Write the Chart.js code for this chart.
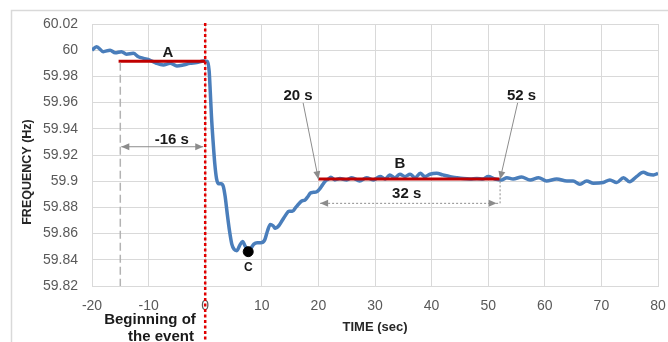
<!DOCTYPE html>
<html>
<head>
<meta charset="utf-8">
<script src="https://cdn.jsdelivr.net/npm/chart.js@4/dist/chart.umd.min.js"></script>
<style>
  html, body { margin: 0; padding: 0; background: #ffffff; }
  #wrap { width: 668px; height: 342px; position: relative; }
</style>
</head>
<body>
<div id="wrap"><canvas id="c"></canvas></div>
<script>
// ---- data ----
const timeSec = [-20, -19.2, -18, -16.8, -15.9, -14.8, -13.9, -12.7, -11.8, -10.9, -9.8, -8.6, -7.4, -6.2, -5.0, -3.9, -2.7, -1.5, -0.3,
  0.4, 0.7, 0.9, 1.1, 1.4, 1.7, 2.0, 2.4, 2.8, 3.2, 3.5, 3.9, 4.3, 4.7, 5.1, 5.6, 6.1, 6.6, 7.1, 7.6, 8.1, 8.6, 9.2, 9.8,
  10.5, 11.0, 11.5, 12.0, 12.4, 13.0, 13.6, 14.2, 14.8, 15.4, 16.0, 16.6, 17.1, 17.6, 18.1, 18.6, 19.1, 19.7, 20.2, 20.7,
  21.2, 21.7, 22.2, 22.9, 23.8, 25.0, 25.9, 27.3, 28.5, 29.7, 30.9, 31.8, 32.6, 33.5, 34.4, 35.3, 36.2, 37.1, 38.0, 38.8,
  39.7, 40.9, 42.0, 43.3, 44.4, 45.6, 46.8, 48.0, 49.1, 50.0, 51.2, 52.4, 53.3, 54.4, 55.9, 57.4, 58.9, 60.3, 62.1, 63.9,
  65.0, 66.2, 67.4, 68.6, 70.3, 71.5, 72.7, 73.9, 75.0, 76.2, 77.4, 78.3, 79.2, 80.0];
const freqHz = [60.000, 60.0027, 59.9989, 60.000, 59.998, 59.9989, 59.9969, 59.9976, 59.995, 59.9938, 59.9925, 59.990, 59.9887, 59.990, 59.988, 59.9887, 59.990, 59.9905, 59.9918,
  59.9915, 59.984, 59.968, 59.950, 59.930, 59.913, 59.902, 59.898, 59.898, 59.896, 59.889, 59.875, 59.862, 59.852, 59.848, 59.847, 59.851, 59.854, 59.850, 59.847, 59.849, 59.852, 59.853, 59.853,
  59.855, 59.862, 59.867, 59.866, 59.864, 59.866, 59.870, 59.874, 59.877, 59.877, 59.880, 59.883, 59.885, 59.8855, 59.888, 59.891, 59.8915, 59.892, 59.894, 59.897,
  59.900, 59.9015, 59.903, 59.901, 59.902, 59.901, 59.9027, 59.9002, 59.9027, 59.901, 59.9035, 59.9017, 59.9048, 59.9027, 59.9053, 59.9035, 59.9053, 59.9027, 59.906, 59.9035,
  59.9053, 59.906, 59.9048, 59.9035, 59.9027, 59.902, 59.9017, 59.902, 59.9017, 59.9035, 59.9017, 59.901, 59.9027, 59.9017, 59.9032, 59.901, 59.9027, 59.9002, 59.9017, 59.9002,
  59.9002, 59.8976, 59.9002, 59.8984, 59.899, 59.901, 59.899, 59.9027, 59.8996, 59.9035, 59.9068, 59.9053, 59.9048, 59.906];

// Level A (pre-event) and level B (settling) segments
const levelA_time = [-15.3, 0];
const levelA_freq = [59.9915, 59.9915];
const levelB_time = [20, 52];
const levelB_freq = [59.9017, 59.9017];
// Point C (nadir marker)
const pointC_time = [7.6];
const pointC_freq = [59.8462];

// Axis ticks
const xTicks = [-20, -10, 0, 10, 20, 30, 40, 50, 60, 70, 80];
const yTicks = [59.82, 59.84, 59.86, 59.88, 59.9, 59.92, 59.94, 59.96, 59.98, 60, 60.02];

const toXY = (xs, ys) => xs.map((x, i) => ({ x: x, y: ys[i] }));

function arrowHead(ctx, x1, y1, x2, y2, len, half) {
  const a = Math.atan2(y2 - y1, x2 - x1);
  ctx.beginPath();
  ctx.moveTo(x2, y2);
  ctx.lineTo(x2 - len * Math.cos(a) + half * Math.sin(a), y2 - len * Math.sin(a) - half * Math.cos(a));
  ctx.lineTo(x2 - len * Math.cos(a) - half * Math.sin(a), y2 - len * Math.sin(a) + half * Math.cos(a));
  ctx.closePath();
  ctx.fill();
}

const annot = {
  id: 'annot',
  beforeDraw(chart) {
    const ctx = chart.ctx;
    ctx.save();
    ctx.strokeStyle = '#d9d9d9';
    ctx.lineWidth = 1.5;
    ctx.strokeRect(11.5, 10.5, 700, 400);
    ctx.restore();
  },
  afterDatasetsDraw(chart) {
    const ctx = chart.ctx;
    const xs = chart.scales.x, ys = chart.scales.y;
    const X = v => xs.getPixelForValue(v), Y = v => ys.getPixelForValue(v);
    const area = chart.chartArea;
    ctx.save();

    // gray dashed vertical at -15 s
    ctx.strokeStyle = '#b3b3b3';
    ctx.lineWidth = 1.5;
    ctx.setLineDash([8, 4]);
    ctx.beginPath();
    ctx.moveTo(X(-15), Y(59.9905));
    ctx.lineTo(X(-15), area.bottom);
    ctx.stroke();
    ctx.setLineDash([]);

    // -16 s double arrow
    ctx.strokeStyle = '#8c8c8c';
    ctx.fillStyle = '#8c8c8c';
    ctx.lineWidth = 1;
    const ya = Y(59.9263);
    ctx.beginPath();
    ctx.moveTo(X(-15) + 1, ya);
    ctx.lineTo(X(-0.35), ya);
    ctx.stroke();
    arrowHead(ctx, X(-8), ya, X(-15) + 1, ya, 8, 3.5);
    arrowHead(ctx, X(-8), ya, X(-0.35), ya, 8, 3.5);

    // 20 s arrow
    ctx.beginPath();
    ctx.moveTo(X(17.3), Y(59.9598));
    ctx.lineTo(X(20), Y(59.9015));
    ctx.stroke();
    arrowHead(ctx, X(17.3), Y(59.9598), X(20), Y(59.9015), 8, 3.5);

    // 52 s arrow
    ctx.beginPath();
    ctx.moveTo(X(55.2), Y(59.9598));
    ctx.lineTo(X(52.1), Y(59.9015));
    ctx.stroke();
    arrowHead(ctx, X(55.2), Y(59.9598), X(52.1), Y(59.9015), 8, 3.5);

    // 32 s dotted double arrow with connector
    const yb = Y(59.8831);
    ctx.setLineDash([2, 2]);
    ctx.beginPath();
    ctx.moveTo(X(20.3), yb);
    ctx.lineTo(X(52.1), yb);
    ctx.lineTo(X(52.1), Y(59.9));
    ctx.stroke();
    ctx.setLineDash([]);
    arrowHead(ctx, X(30), yb, X(20.3), yb, 8, 3.5);
    arrowHead(ctx, X(40), yb, X(51.5), yb, 8, 3.5);

    // red dotted event line at t = 0
    ctx.strokeStyle = '#e00000';
    ctx.lineWidth = 2.5;
    ctx.setLineDash([3, 2.5]);
    ctx.beginPath();
    ctx.moveTo(X(0), area.top - 1);
    ctx.lineTo(X(0), chart.height);
    ctx.stroke();
    ctx.setLineDash([]);

    // texts
    ctx.fillStyle = '#1a1a1a';
    ctx.textAlign = 'center';
    ctx.textBaseline = 'middle';
    ctx.font = 'bold 15px "Liberation Sans", Arial, sans-serif';
    ctx.fillText('A', X(-6.6), Y(59.9979));
    ctx.fillText('-16 s', X(-5.9), Y(59.9315));
    ctx.fillText('20 s', X(16.4), Y(59.965));
    ctx.fillText('52 s', X(55.9), Y(59.965));
    ctx.fillText('B', X(34.4), Y(59.9131));
    ctx.fillText('32 s', X(35.6), Y(59.8902));
    ctx.font = 'bold 12px "Liberation Sans", Arial, sans-serif';
    ctx.fillText('C', X(7.6), Y(59.8343));

    ctx.font = 'bold 15px "Liberation Sans", Arial, sans-serif';
    ctx.fillStyle = '#1a1a1a';
    ctx.fillText('Beginning of', 150, 320);
    ctx.fillText('the event', 161, 337);

    // y axis title
    ctx.save();
    ctx.translate(28, 172);
    ctx.rotate(-Math.PI / 2);
    ctx.font = 'bold 12.5px "Liberation Sans", Arial, sans-serif';
    ctx.fillStyle = '#262626';
    ctx.fillText('FREQUENCY (Hz)', 0, 0);
    ctx.restore();

    ctx.restore();
  }
};

new Chart(document.getElementById('c'), {
  type: 'line',
  data: {
    datasets: [
      {
        label: 'Frequency',
        data: toXY(timeSec, freqHz),
        borderColor: '#4a7ebb',
        borderWidth: 3.5,
        pointRadius: 0,
        tension: 0.4,
        cubicInterpolationMode: 'monotone',
        order: 3
      },
      {
        label: 'A',
        data: toXY(levelA_time, levelA_freq),
        borderColor: '#c00000',
        borderWidth: 3,
        pointRadius: 0,
        order: 2
      },
      {
        label: 'B',
        data: toXY(levelB_time, levelB_freq),
        borderColor: '#c00000',
        borderWidth: 3,
        pointRadius: 0,
        order: 2
      },
      {
        label: 'C',
        data: toXY(pointC_time, pointC_freq),
        showLine: false,
        pointRadius: 5,
        pointBackgroundColor: '#000000',
        pointBorderColor: '#000000',
        order: 1
      }
    ]
  },
  options: {
    responsive: true,
    maintainAspectRatio: false,
    animation: false,
    layout: { padding: { left: 12, right: 10, top: 24, bottom: 0 } },
    plugins: { legend: { display: false }, tooltip: { enabled: false } },
    scales: {
      x: {
        type: 'linear',
        min: -20, max: 80,
        afterBuildTicks: s => { s.ticks = xTicks.map(v => ({ value: v })); },
        afterFit: s => { s.height = 56; s.paddingRight = 0; s.paddingLeft = 0; },
        ticks: { color: '#595959', font: { size: 14, family: '"Liberation Sans", Arial, sans-serif' }, padding: 12, maxRotation: 0 },
        grid: { color: '#d9d9d9', lineWidth: 1, drawTicks: false },
        border: { color: '#d9d9d9' },
        title: { display: true, text: 'TIME (sec)', color: '#262626', font: { size: 13, weight: 'bold', family: '"Liberation Sans", Arial, sans-serif' }, padding: { top: 4, bottom: 7 } }
      },
      y: {
        min: 59.82, max: 60.02,
        afterBuildTicks: s => { s.ticks = yTicks.map(v => ({ value: v })); },
        afterFit: s => { s.width = 80; s.paddingTop = 0; s.paddingBottom = 0; },
        ticks: {
          color: '#595959',
          font: { size: 14, family: '"Liberation Sans", Arial, sans-serif' },
          padding: 14,
          callback: v => String(Math.round(v * 100) / 100)
        },
        grid: { color: '#d9d9d9', lineWidth: 1, drawTicks: false },
        border: { color: '#d9d9d9' }
      }
    }
  },
  plugins: [annot]
});
</script>
</body>
</html>
